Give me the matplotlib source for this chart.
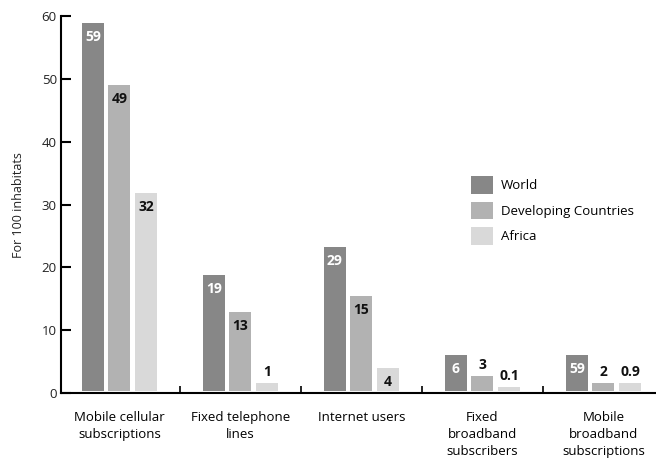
import numpy as np
import matplotlib.pyplot as plt
from matplotlib.patches import Patch

plt.rcParams['font.family'] = ['Open Sans', 'DejaVu Sans']

categories = ['Mobile cellular\nsubscriptions', 'Fixed telephone\nlines', 'Internet users',
              'Fixed\nbroadband\nsubscribers', 'Mobile\nbroadband\nsubscriptions']
series = ['World', 'Developing Countries', 'Africa']
colors = ['#878787', '#b2b2b2', '#d9d9d9']

# bar heights as drawn in the picture
world = [58.9, 18.8, 23.2, 6.0, 6.0]
developing = [49.0, 12.9, 15.4, 2.7, 1.6]
africa = [31.8, 1.6, 4.0, 0.95, 1.6]
# labels printed on the bars (not always the same as the heights)
world_lbl = ['59', '19', '29', '6', '59']
developing_lbl = ['49', '13', '15', '3', '2']
africa_lbl = ['32', '1', '4', '0.1', '0.9']
# which labels sit inside the bar (True) or above it (False)
inside = [[True] * 5,
          [True, True, True, False, False],
          [True, False, True, False, False]]

values = [world, developing, africa]
labels = [world_lbl, developing_lbl, africa_lbl]
txt_col = ['white', '#111111', '#111111']

fig = plt.figure(figsize=(6.56, 4.68), dpi=100)
ax = fig.add_axes([0.093, 0.160, 0.907, 0.8056])

x = np.arange(len(categories))
base = 0.35
pitch = 0.219
w = 0.182
for k in range(3):
    xs = x + (k - 1) * pitch
    h = np.array(values[k])
    ax.bar(xs, h - base, w, bottom=base, color=colors[k], linewidth=0)
    for i in range(len(xs)):
        if inside[k][i]:
            ax.annotate(labels[k][i], (xs[i], h[i]), xytext=(0, -10), textcoords='offset points',
                        ha='center', va='center', fontsize=10, fontweight='bold', color=txt_col[k])
        else:
            ax.annotate(labels[k][i], (xs[i], h[i]), xytext=(0, 8), textcoords='offset points',
                        ha='center', va='center', fontsize=10, fontweight='bold', color='#111111')

ax.set_xlim(-0.483, 4.434)
ax.set_ylim(0, 60)
ax.set_yticks(range(0, 61, 10))
ax.set_xticks(x[:-1] + 0.5)
ax.set_xticklabels([])
ax.set_xticks(x, minor=True)
ax.set_xticklabels(categories, minor=True, fontsize=9.5, linespacing=1.4, va='top')
ax.tick_params(axis='x', which='major', direction='in', length=5, width=1.2)
ax.tick_params(axis='x', which='minor', length=0, pad=13)
ax.tick_params(axis='y', direction='in', length=7, width=1.5, labelsize=9.5, pad=3)
ax.tick_params(axis='both', colors='black', labelcolor='#222222')

for s in ['top', 'right']:
    ax.spines[s].set_visible(False)
ax.spines['left'].set_linewidth(1.5)
ax.spines['bottom'].set_linewidth(1.5)
ax.set_ylabel('For 100 inhabitats', fontsize=9, labelpad=12, color='#222222')

handles = [Patch(facecolor=c, edgecolor='none') for c in colors]
ax.legend(handles, series, loc='upper left', bbox_to_anchor=(0.689, 0.575), frameon=False,
          fontsize=9.5, handlelength=1.65, handleheight=1.65, handletextpad=0.65, labelspacing=0.62,
          borderpad=0, borderaxespad=0)

fig.savefig('out.png', dpi=100)
